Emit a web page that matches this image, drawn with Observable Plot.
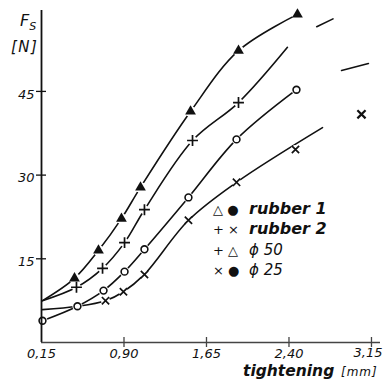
<!DOCTYPE html>
<html>
<head>
<meta charset="utf-8">
<script src="https://cdn.jsdelivr.net/npm/d3@7"></script>
<script src="https://cdn.jsdelivr.net/npm/@observablehq/plot@0.6"></script>
<style>
  html, body { margin: 0; padding: 0; background: #fff; }
  #wrap { position: relative; width: 384px; height: 383px; font-family: "DejaVu Sans", sans-serif; color: #111; }
  #wrap svg { position: absolute; left: 0; top: 0; }
  .ov { position: absolute; white-space: nowrap; font-style: italic; line-height: 1; }
  .leg { position: absolute; white-space: nowrap; line-height: 1; }
  .sym { display: inline-block; width: 36px; font-size: 13px; font-style: normal; }
  .big { font-size: 16px; font-weight: bold; font-style: italic; }
  .thin { font-size: 15px; font-style: italic; }
</style>
</head>
<body>
<div id="wrap"></div>
<script>
// ---- data ----
const xTicks = [0.15, 0.90, 1.65, 2.40, 3.15];
const yTicks = [15, 30, 45];

// rubber 1, ϕ 50 (filled triangles)
const r1d50Curve = [[0.159,7.5],[0.45,11.5],[0.668,16.5],[0.877,22.2],[1.05,27.8],[1.505,41.4],[1.941,52.3],[2.477,58.8]];
const r1d50Pts   = [[0.45,11.5],[0.668,16.5],[0.877,22.2],[1.05,27.8],[1.505,41.4],[1.941,52.3],[2.477,58.8]];

// rubber 2, ϕ 50 (plus)
const r2d50Curve = [[0.159,7.5],[0.468,9.9],[0.705,13.3],[0.905,17.9],[1.086,23.8],[1.523,36.2],[1.941,43.0],[2.386,52.9]];
const r2d50Pts   = [[0.468,9.9],[0.705,13.3],[0.905,17.9],[1.086,23.8],[1.523,36.2],[1.941,43.0]];

// rubber 1, ϕ 25 (open circles)
const r1d25Curve = [[0.159,3.9],[0.477,6.5],[0.714,9.3],[0.905,12.7],[1.086,16.7],[1.486,26.0],[1.923,36.4],[2.468,45.3]];
const r1d25Pts   = [[0.159,3.9],[0.477,6.5],[0.714,9.3],[0.905,12.7],[1.086,16.7],[1.486,26.0],[1.923,36.4],[2.468,45.3]];

// rubber 2, ϕ 25 (crosses)
const r2d25Curve = [[0.159,5.9],[0.477,6.5],[0.732,7.5],[0.895,9.1],[1.086,12.2],[1.486,21.9],[1.923,28.7],[2.705,38.5]];
const r2d25Pts   = [[0.732,7.5],[0.895,9.1],[1.086,12.2],[1.486,21.9],[1.923,28.7],[2.459,34.6]];

// stray fragments at the right edge
const dashUpper = [[2.652,56.6],[2.80,58.0]];
const dashLower = [[2.878,48.75],[3.122,50.0]];
const strayCross = [[3.059,40.9]];

const fmtX = d => d.toFixed(2).replace(".", ",");
const X = d => d[0], Y = d => d[1];

const lineOpts = {x: X, y: Y, curve: "catmull-rom", stroke: "#111", strokeWidth: 1.6};
const halo = (pts, r) => Plot.dot(pts, {x: X, y: Y, r, fill: "white", stroke: "none"});

const chart = Plot.plot({
  width: 384,
  height: 383,
  marginLeft: 41,
  marginRight: 4,
  marginTop: 10,
  marginBottom: 41,
  x: {domain: [0.15, 3.232]},
  y: {domain: [0, 59.5]},
  style: {fontFamily: "DejaVu Sans, sans-serif", fontStyle: "italic", fontSize: "13px", color: "#111", background: "white"},
  marks: [
    Plot.line(r1d50Curve, lineOpts),
    Plot.line(r2d50Curve, lineOpts),
    Plot.line(r1d25Curve, lineOpts),
    Plot.line(r2d25Curve, lineOpts),
    Plot.line(dashUpper, {x: X, y: Y, stroke: "#111", strokeWidth: 1.6}),
    Plot.line(dashLower, {x: X, y: Y, stroke: "#111", strokeWidth: 1.6}),
    halo(r1d50Pts, 5.5),
    halo(r2d50Pts, 4.5),
    halo(r1d25Pts, 5),
    halo(r2d25Pts, 4.5),
    Plot.dot(r1d50Pts, {x: X, y: Y, symbol: "triangle", r: 4, fill: "#111", stroke: "none"}),
    Plot.dot(r2d50Pts, {x: X, y: Y, symbol: "plus", r: 3.6, stroke: "#111", strokeWidth: 1.7}),
    Plot.dot(r1d25Pts, {x: X, y: Y, symbol: "circle", r: 3.4, fill: "white", stroke: "#111", strokeWidth: 1.6}),
    Plot.dot(r2d25Pts, {x: X, y: Y, symbol: "times", r: 3.4, stroke: "#111", strokeWidth: 1.7}),
    Plot.dot(strayCross, {x: X, y: Y, symbol: "times", r: 3.8, stroke: "#111", strokeWidth: 2.2}),
    Plot.ruleX([0.15], {stroke: "#111", strokeWidth: 1.8}),
    Plot.ruleY([0], {stroke: "#444", strokeWidth: 1.3}),
    Plot.axisY(yTicks, {tickSize: 10, dx: 5, tickFormat: () => "", stroke: "#111", strokeWidth: 1.3}),
    Plot.axisY(yTicks, {tickSize: 0, tickPadding: 7, dy: 3, fontWeight: 500, tickFormat: d => String(d)}),
    Plot.axisX(xTicks.slice(1), {tickSize: 10, dy: -5, tickFormat: () => "", stroke: "#444", strokeWidth: 1.3}),
    Plot.axisX(xTicks.slice(0, -1), {tickSize: 0, tickPadding: 5, dy: 1, fontWeight: 500, tickFormat: fmtX}),
    Plot.axisX(xTicks.slice(-1), {tickSize: 0, tickPadding: 5, dy: 1, dx: -2, textAnchor: "end", fontWeight: 500, tickFormat: d => fmtX(d), text: null, fontSize: 13}),
    Plot.text(xTicks.slice(-1), {x: d => d, frameAnchor: "bottom", dy: 14, dx: 11, textAnchor: "end", fontWeight: 500, text: fmtX})
  ]
});

const wrap = document.getElementById("wrap");
wrap.appendChild(chart);

const add = (html, cls, left, top, extra) => {
  const d = document.createElement("div");
  d.className = cls;
  d.style.left = left + "px";
  d.style.top = top + "px";
  if (extra) Object.assign(d.style, extra);
  d.innerHTML = html;
  wrap.appendChild(d);
};
add("F<sub style='font-size:11px'>S</sub>", "ov", 20, 13, {fontSize: "16px"});
add("[N]", "ov", 11, 40, {fontSize: "15px", fontWeight: "500", letterSpacing: "1.5px"});
add("tightening", "ov", 243, 364, {fontSize: "15.5px", fontWeight: "bold"});
add("[mm]", "ov", 341, 366, {fontSize: "12px", letterSpacing: "1px"});

const legendRows = [
  ["△ ●", "rubber 1", "big", 201],
  ["+ ×", "rubber 2", "big", 221],
  ["+ △", "ϕ 50", "thin", 242],
  ["× ●", "ϕ 25", "thin", 262]
];
for (const [s, t, cls, top] of legendRows) {
  add(`<span class="sym">${s}</span><span class="${cls}">${t}</span>`, "leg", 213, top);
}
</script>
</body>
</html>
